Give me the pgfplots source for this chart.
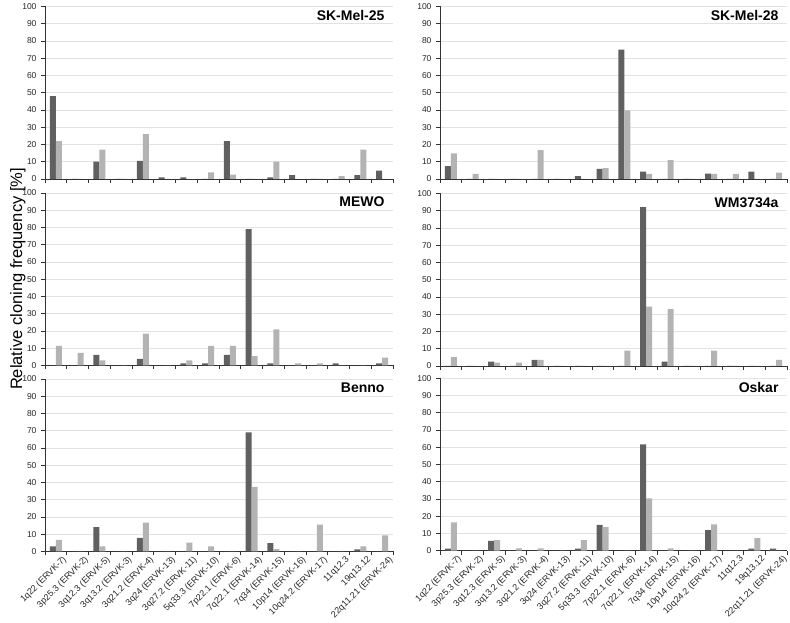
\documentclass[border=0pt]{standalone}
\usepackage{pgfplots}
\pgfplotsset{compat=1.18}
\usepackage{fontspec}
\setmainfont{Liberation Sans}
\definecolor{darkbar}{HTML}{606060}
\definecolor{lightbar}{HTML}{B3B3B3}
\definecolor{gridc}{HTML}{E2E2E2}
\pgfplotsset{
  panel/.style={
    scale only axis, width=348pt, height=172.5pt,
    anchor=south west,
    xmin=-0.5, xmax=15.5, ymin=0, ymax=100,
    ytick={0,10,...,100},
    xtick={-0.5,0.5,...,15.5}, xticklabels={},
    axis x line*=bottom, axis y line*=left,
    axis line style={black!80, line width=0.6pt},
    every tick/.style={black!80, line width=0.6pt},
    ymajorgrids, grid style={gridc, line width=0.8pt},
    tick align=outside, major tick length=4pt,
    ybar=0pt, bar width=6pt,
    yticklabel style={font=\fontsize{8.5}{9}\selectfont, text=black!85, xshift=-1pt},
    /pgf/number format/assume math mode=true,
    clip=false,
  },
  labelled/.style={
    extra x ticks={0,...,15},
    extra x tick labels={1q22 (ERVK-7),3p25.3 (ERVK-2),3q12.3 (ERVK-5),3q13.2 (ERVK-3),3q21.2 (ERVK-4),3q24 (ERVK-13),3q27.2 (ERVK-11),5q33.3 (ERVK-10),7p22.1 (ERVK-6),7q22.1 (ERVK-14),7q34 (ERVK-15),10p14 (ERVK-16),10q24.2 (ERVK-17),11q12.3,19q13.12,22q11.21 (ERVK-24)},
    extra x tick style={major tick length=0pt, xticklabel style={rotate=45, anchor=north east, font=\fontsize{9}{10}\selectfont, text=black!85, inner sep=0pt, xshift=2pt, yshift=-7pt}},
  },
  dk/.style={fill=darkbar, draw=none},
  lt/.style={fill=lightbar, draw=none},
}
\newcommand{\paneltitle}[1]{\node[anchor=base east, font=\bfseries\fontsize{14}{16}\selectfont, xshift=-5pt, yshift=-14pt] at (rel axis cs:1,1) {#1};}
\begin{document}
\begin{tikzpicture}
\path[use as bounding box] (0pt,0pt) rectangle (790pt,623pt);

% SK-Mel-25
\begin{axis}[panel, at={(45pt,444pt)}]
\addplot[dk] coordinates {(0,48) (1,0) (2,10) (3,0) (4,10.5) (5,1) (6,1) (7,0) (8,22) (9,0) (10,1) (11,2.3) (12,0) (13,0) (14,2.3) (15,4.8)};
\addplot[lt] coordinates {(0,22) (1,0) (2,17) (3,0) (4,26) (5,0) (6,0) (7,3.8) (8,2.5) (9,0) (10,10) (11,0) (12,0) (13,1.7) (14,17) (15,0)};
\paneltitle{SK-Mel-25}
\end{axis}

% SK-Mel-28
\begin{axis}[panel, at={(440pt,444pt)}, width=347pt]
\addplot[dk] coordinates {(0,7.5) (1,0) (2,0) (3,0) (4,0) (5,0) (6,1.7) (7,5.8) (8,75) (9,4.2) (10,0) (11,0) (12,3.1) (13,0) (14,4.2) (15,0)};
\addplot[lt] coordinates {(0,14.8) (1,2.9) (2,0) (3,0) (4,16.7) (5,0) (6,0) (7,6.3) (8,39.8) (9,2.9) (10,11) (11,0) (12,2.9) (13,2.9) (14,0) (15,3.7)};
\paneltitle{SK-Mel-28}
\end{axis}

% MEWO
\begin{axis}[panel, at={(45pt,257.5pt)}]
\addplot[dk] coordinates {(0,0) (1,0) (2,6.1) (3,0) (4,3.9) (5,0) (6,1.2) (7,1.2) (8,6.1) (9,79.1) (10,1.2) (11,0) (12,0) (13,1.2) (14,0) (15,1.2)};
\addplot[lt] coordinates {(0,11.4) (1,7.3) (2,3) (3,0) (4,18.5) (5,0) (6,3) (7,11.4) (8,11.4) (9,5.5) (10,21) (11,1.2) (12,1.2) (13,0) (14,0) (15,4.5)};
\paneltitle{MEWO}
\end{axis}

% WM3734a
\begin{axis}[panel, at={(440pt,257pt)}, width=347pt]
\addplot[dk] coordinates {(0,0) (1,0) (2,2.6) (3,0) (4,3.5) (5,0) (6,0) (7,0) (8,0) (9,92.1) (10,2.6) (11,0) (12,0) (13,0) (14,0) (15,0)};
\addplot[lt] coordinates {(0,5.1) (1,0) (2,2) (3,2) (4,3.5) (5,0) (6,0) (7,0) (8,8.9) (9,34.4) (10,32.9) (11,0) (12,8.9) (13,0) (14,0) (15,3.5)};
\paneltitle{WM3734a}
\end{axis}

% Benno
\begin{axis}[panel, labelled, at={(45pt,71.5pt)}]
\addplot[dk] coordinates {(0,3) (1,0) (2,14.2) (3,0) (4,7.9) (5,0) (6,0) (7,0) (8,0) (9,69.1) (10,4.9) (11,0) (12,0) (13,0) (14,1.2) (15,0)};
\addplot[lt] coordinates {(0,6.7) (1,0) (2,3) (3,0) (4,16.7) (5,0) (6,5.1) (7,3) (8,0) (9,37.4) (10,1.4) (11,0) (12,15.6) (13,0) (14,3) (15,9.3)};
\paneltitle{Benno}
\end{axis}

% Oskar
\begin{axis}[panel, labelled, at={(440pt,72.3pt)}, width=347pt]
\addplot[dk] coordinates {(0,1.2) (1,0) (2,5.7) (3,0) (4,0) (5,0) (6,1.2) (7,14.9) (8,0) (9,61.6) (10,0) (11,0) (12,11.9) (13,0) (14,1.2) (15,1.2)};
\addplot[lt] coordinates {(0,16.4) (1,0) (2,6.1) (3,1.4) (4,1.4) (5,0) (6,6.1) (7,13.7) (8,0) (9,30.3) (10,1.4) (11,0) (12,15.2) (13,0) (14,7.3) (15,0)};
\paneltitle{Oskar}
\end{axis}

\node[rotate=90, anchor=base, font=\fontsize{16.5}{18}\selectfont] at (22pt,344pt) {Relative cloning frequency [\%]};
\end{tikzpicture}
\end{document}
